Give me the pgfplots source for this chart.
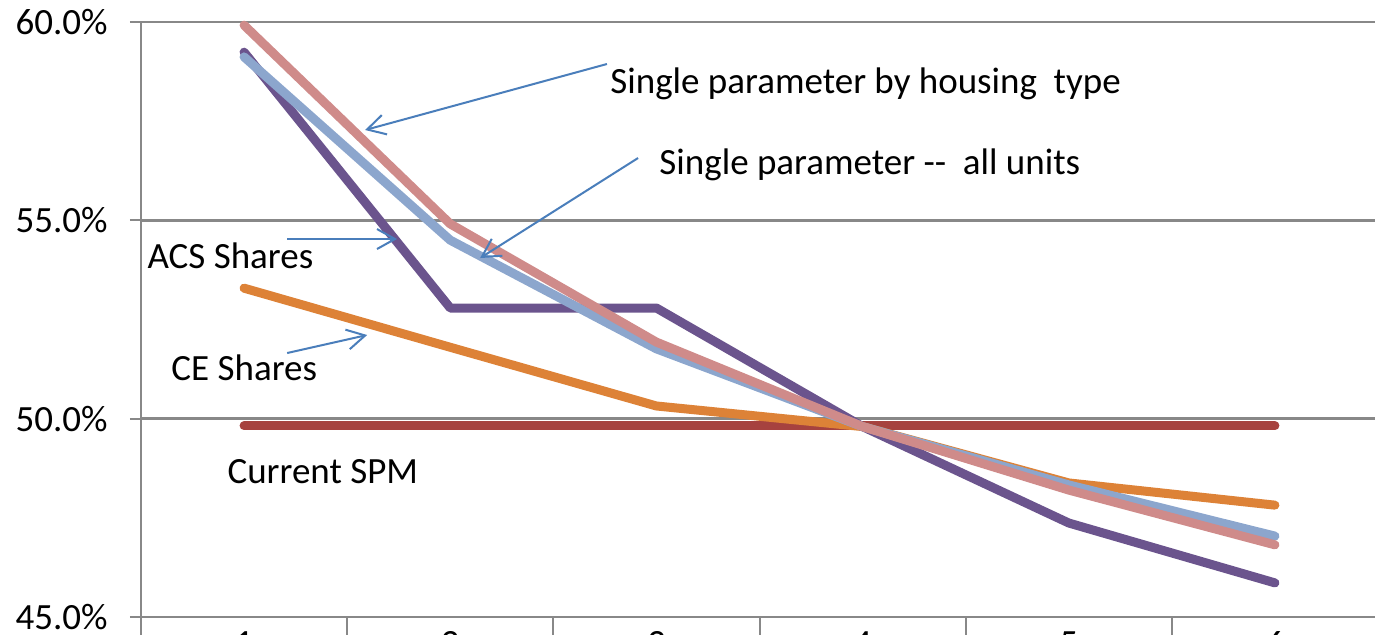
\documentclass[border=0pt]{standalone}
\usepackage{pgfplots}
\pgfplotsset{compat=1.18}
\usepackage{fontspec}
\setmainfont{Carlito}
\usetikzlibrary{arrows.meta}

\definecolor{spmred}{RGB}{166,66,63}
\definecolor{ceorange}{RGB}{221,130,55}
\definecolor{acspurple}{RGB}{107,84,141}
\definecolor{allblue}{RGB}{140,166,205}
\definecolor{housepink}{RGB}{207,139,138}
\definecolor{arrowblue}{RGB}{74,126,187}
\definecolor{gridgray}{RGB}{136,136,136}

\newcommand{\lblfont}{\fontsize{18.5pt}{22pt}\selectfont}

\begin{document}
\begin{tikzpicture}
\begin{axis}[
  name=ax,
  scale only axis,
  width=618.5pt, height=297.5pt,
  xmin=0.5, xmax=6.5,
  ymin=45, ymax=60,
  axis x line*=bottom,
  axis y line*=left,
  axis line style={gridgray, line width=1pt},
  xtick={1,2,3,4,5,6},
  xticklabels={1,2,3,4,5,6},
  minor xtick={0.5,1.5,2.5,3.5,4.5,5.5,6.5},
  major x tick style={draw=none},
  minor x tick style={gridgray, line width=1pt},
  minor tick length=12pt,
  ytick={45,50,55,60},
  major y tick style={gridgray, line width=1pt},
  major tick length=5.5pt,
  tick align=outside,
  ymajorgrids,
  grid style={gridgray, line width=1.4pt},
  yticklabel={\pgfmathprintnumber[fixed,fixed zerofill,precision=1]{\tick}\%},
  /pgf/number format/assume math mode=true,
  ticklabel style={font=\lblfont, text=black},
  yticklabel style={anchor=east, inner sep=0pt, xshift=-11pt},
  xticklabel style={anchor=north, inner sep=0pt, yshift=-1.5pt},
  clip=false,
  every axis plot/.append style={line width=4.5pt, line cap=round, line join=round},
]
% Current SPM
\addplot[spmred] coordinates {(1,49.82) (2,49.82) (3,49.82) (4,49.82) (5,49.82) (6,49.82)};
% CE Shares
\addplot[ceorange] coordinates {(1,53.29) (2,51.80) (3,50.32) (4,49.80) (5,48.38) (6,47.82)};
% ACS Shares
\addplot[acspurple] coordinates {(1,59.24) (2,52.79) (3,52.79) (4,49.80) (5,47.37) (6,45.86)};
% Single parameter -- all units
\addplot[allblue] coordinates {(1,59.12) (2,54.50) (3,51.76) (4,49.80) (5,48.33) (6,47.04)};
% Single parameter by housing type
\addplot[housepink] coordinates {(1,59.92) (2,54.91) (3,51.93) (4,49.80) (5,48.20) (6,46.82)};

% call-out arrows
\begin{scope}[arrowblue, line width=1pt, -{Straight Barb[length=9pt,width=10pt,line width=1pt]}]
  \draw (axis cs:2.760,58.941) -- (axis cs:1.587,57.277);
  \draw (axis cs:2.911,56.571) -- (axis cs:2.145,54.050);
  \draw (axis cs:1.209,54.529) -- (axis cs:1.742,54.529);
  \draw (axis cs:1.209,51.655) -- (axis cs:1.597,52.109);
\end{scope}

% series labels
\node[anchor=base west, inner sep=0pt, font=\lblfont] at (axis cs:2.775,58.210) {Single parameter by housing\ \ type};
\node[anchor=base west, inner sep=0pt, font=\lblfont] at (axis cs:3.013,56.168) {Single parameter -{}-\ \ all units};
\node[anchor=base west, inner sep=0pt, font=\lblfont] at (axis cs:0.530,53.798) {ACS Shares};
\node[anchor=base west, inner sep=0pt, font=\lblfont] at (axis cs:0.646,50.950) {CE Shares};
\node[anchor=base west, inner sep=0pt, font=\lblfont] at (axis cs:0.918,48.378) {Current SPM};
\end{axis}
\pgfresetboundingbox
\path ([shift={(-70.5pt,-8.5pt)}]ax.south west) rectangle ++(687.5pt,317pt);
\end{tikzpicture}
\end{document}
